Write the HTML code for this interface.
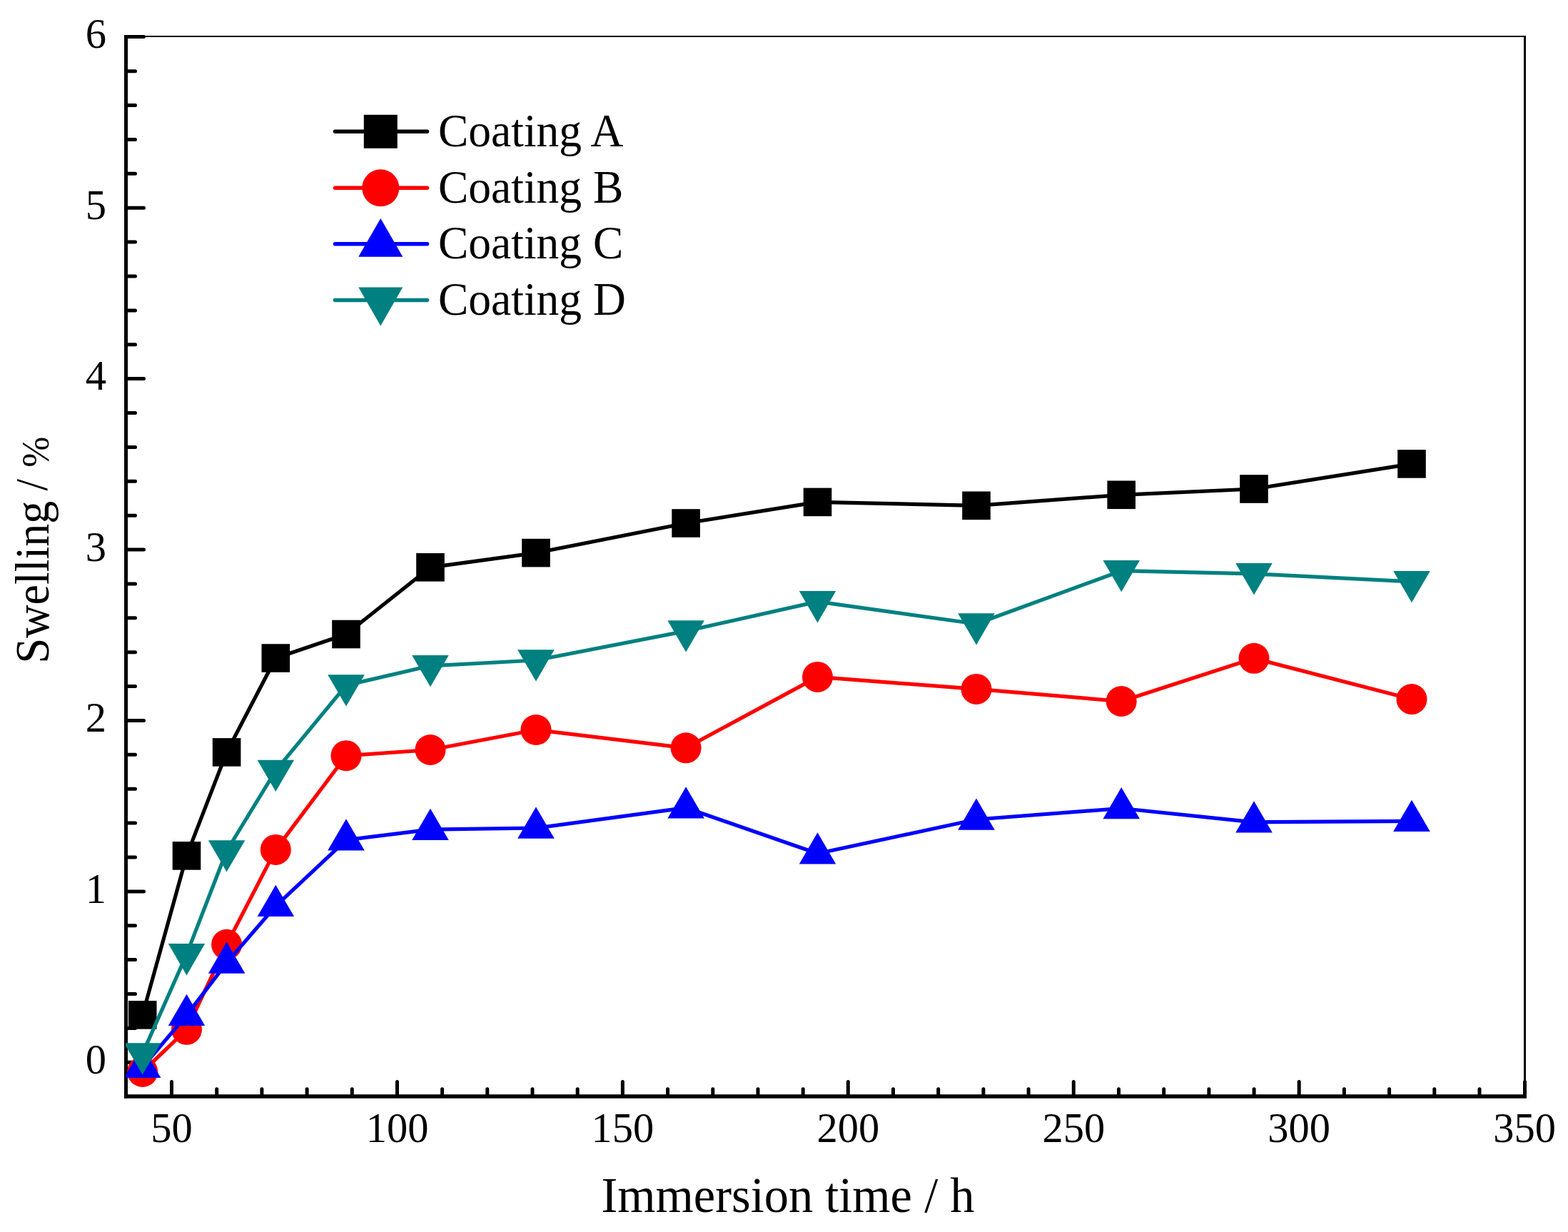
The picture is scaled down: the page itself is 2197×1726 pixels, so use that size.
<!DOCTYPE html>
<html lang="en"><head><meta charset="utf-8"><title>Swelling vs immersion time</title>
<style>html,body{margin:0;padding:0;background:#fff;}body{width:2197px;height:1726px;overflow:hidden;}svg{display:block;}text{font-family:"Liberation Serif","Times New Roman",serif;fill:#000;}.tk{font-size:58.5px;}.lg{font-size:63.5px;}.ti{font-size:68.5px;}</style></head><body>
<svg width="2197" height="1726" viewBox="0 0 2197 1726">
<rect x="0" y="0" width="2197" height="1726" fill="#ffffff"/>
<g stroke="#000" fill="none">
<line x1="176.5" y1="51.0" x2="2138.0" y2="51.0" stroke-width="2"/>
<line x1="2136.5" y1="50.0" x2="2136.5" y2="1536.0" stroke-width="3"/>
<line x1="176.5" y1="49.0" x2="176.5" y2="1538.75" stroke-width="5"/>
<line x1="174.0" y1="1536.0" x2="2139.0" y2="1536.0" stroke-width="5.5"/>
</g>
<g stroke="#000" stroke-width="5" stroke-linecap="round" fill="none">
<line x1="176.5" y1="1488.3" x2="201.5" y2="1488.3"/>
<line x1="176.5" y1="1440.4" x2="189.5" y2="1440.4"/>
<line x1="176.5" y1="1392.5" x2="189.5" y2="1392.5"/>
<line x1="176.5" y1="1344.6" x2="189.5" y2="1344.6"/>
<line x1="176.5" y1="1296.8" x2="189.5" y2="1296.8"/>
<line x1="176.5" y1="1248.9" x2="201.5" y2="1248.9"/>
<line x1="176.5" y1="1201.0" x2="189.5" y2="1201.0"/>
<line x1="176.5" y1="1153.1" x2="189.5" y2="1153.1"/>
<line x1="176.5" y1="1105.2" x2="189.5" y2="1105.2"/>
<line x1="176.5" y1="1057.3" x2="189.5" y2="1057.3"/>
<line x1="176.5" y1="1009.5" x2="201.5" y2="1009.5"/>
<line x1="176.5" y1="961.6" x2="189.5" y2="961.6"/>
<line x1="176.5" y1="913.7" x2="189.5" y2="913.7"/>
<line x1="176.5" y1="865.8" x2="189.5" y2="865.8"/>
<line x1="176.5" y1="817.9" x2="189.5" y2="817.9"/>
<line x1="176.5" y1="770.0" x2="201.5" y2="770.0"/>
<line x1="176.5" y1="722.2" x2="189.5" y2="722.2"/>
<line x1="176.5" y1="674.3" x2="189.5" y2="674.3"/>
<line x1="176.5" y1="626.4" x2="189.5" y2="626.4"/>
<line x1="176.5" y1="578.5" x2="189.5" y2="578.5"/>
<line x1="176.5" y1="530.6" x2="201.5" y2="530.6"/>
<line x1="176.5" y1="482.7" x2="189.5" y2="482.7"/>
<line x1="176.5" y1="434.9" x2="189.5" y2="434.9"/>
<line x1="176.5" y1="387.0" x2="189.5" y2="387.0"/>
<line x1="176.5" y1="339.1" x2="189.5" y2="339.1"/>
<line x1="176.5" y1="291.2" x2="201.5" y2="291.2"/>
<line x1="176.5" y1="243.3" x2="189.5" y2="243.3"/>
<line x1="176.5" y1="195.4" x2="189.5" y2="195.4"/>
<line x1="176.5" y1="147.5" x2="189.5" y2="147.5"/>
<line x1="176.5" y1="99.7" x2="189.5" y2="99.7"/>
<line x1="176.5" y1="51.5" x2="201.5" y2="51.5"/>
<line x1="240.5" y1="1535.7" x2="240.5" y2="1515.5"/>
<line x1="303.7" y1="1535.7" x2="303.7" y2="1525.7"/>
<line x1="366.9" y1="1535.7" x2="366.9" y2="1525.7"/>
<line x1="430.1" y1="1535.7" x2="430.1" y2="1525.7"/>
<line x1="493.3" y1="1535.7" x2="493.3" y2="1525.7"/>
<line x1="556.5" y1="1535.7" x2="556.5" y2="1515.5"/>
<line x1="619.6" y1="1535.7" x2="619.6" y2="1525.7"/>
<line x1="682.8" y1="1535.7" x2="682.8" y2="1525.7"/>
<line x1="746.0" y1="1535.7" x2="746.0" y2="1525.7"/>
<line x1="809.2" y1="1535.7" x2="809.2" y2="1525.7"/>
<line x1="872.4" y1="1535.7" x2="872.4" y2="1515.5"/>
<line x1="935.6" y1="1535.7" x2="935.6" y2="1525.7"/>
<line x1="998.8" y1="1535.7" x2="998.8" y2="1525.7"/>
<line x1="1062.0" y1="1535.7" x2="1062.0" y2="1525.7"/>
<line x1="1125.2" y1="1535.7" x2="1125.2" y2="1525.7"/>
<line x1="1188.3" y1="1535.7" x2="1188.3" y2="1515.5"/>
<line x1="1251.5" y1="1535.7" x2="1251.5" y2="1525.7"/>
<line x1="1314.7" y1="1535.7" x2="1314.7" y2="1525.7"/>
<line x1="1377.9" y1="1535.7" x2="1377.9" y2="1525.7"/>
<line x1="1441.1" y1="1535.7" x2="1441.1" y2="1525.7"/>
<line x1="1504.3" y1="1535.7" x2="1504.3" y2="1515.5"/>
<line x1="1567.5" y1="1535.7" x2="1567.5" y2="1525.7"/>
<line x1="1630.7" y1="1535.7" x2="1630.7" y2="1525.7"/>
<line x1="1693.9" y1="1535.7" x2="1693.9" y2="1525.7"/>
<line x1="1757.1" y1="1535.7" x2="1757.1" y2="1525.7"/>
<line x1="1820.2" y1="1535.7" x2="1820.2" y2="1515.5"/>
<line x1="1883.4" y1="1535.7" x2="1883.4" y2="1525.7"/>
<line x1="1946.6" y1="1535.7" x2="1946.6" y2="1525.7"/>
<line x1="2009.8" y1="1535.7" x2="2009.8" y2="1525.7"/>
<line x1="2073.0" y1="1535.7" x2="2073.0" y2="1525.7"/>
<line x1="2136.5" y1="1535.7" x2="2136.5" y2="1515.5"/>
</g>
<defs><clipPath id="pc"><rect x="176" y="50" width="1962" height="1488"/></clipPath></defs>
<g clip-path="url(#pc)">
<g>
<polyline points="199.7,1421.9 261.5,1198.9 317.6,1053.9 386.3,922.0 485.0,888.5 603.0,794.8 751.0,774.6 961.1,733.0 1145.5,703.4 1368.0,708.3 1571.2,693.3 1757.0,685.0 1978.0,649.9" fill="none" stroke="#000000" stroke-width="5.2" stroke-linejoin="round"/>
<rect x="179.9" y="1402.1" width="39.6" height="39.6" fill="#000000"/>
<rect x="241.7" y="1179.1" width="39.6" height="39.6" fill="#000000"/>
<rect x="297.8" y="1034.1" width="39.6" height="39.6" fill="#000000"/>
<rect x="366.5" y="902.2" width="39.6" height="39.6" fill="#000000"/>
<rect x="465.2" y="868.7" width="39.6" height="39.6" fill="#000000"/>
<rect x="583.2" y="775.0" width="39.6" height="39.6" fill="#000000"/>
<rect x="731.2" y="754.8" width="39.6" height="39.6" fill="#000000"/>
<rect x="941.3" y="713.2" width="39.6" height="39.6" fill="#000000"/>
<rect x="1125.7" y="683.6" width="39.6" height="39.6" fill="#000000"/>
<rect x="1348.2" y="688.5" width="39.6" height="39.6" fill="#000000"/>
<rect x="1551.4" y="673.5" width="39.6" height="39.6" fill="#000000"/>
<rect x="1737.2" y="665.2" width="39.6" height="39.6" fill="#000000"/>
<rect x="1958.2" y="630.1" width="39.6" height="39.6" fill="#000000"/>
</g>
<g>
<polyline points="199.7,1501.5 261.5,1442.3 317.6,1323.3 386.3,1190.4 485.0,1058.7 603.0,1050.5 751.0,1022.5 961.1,1047.8 1145.5,948.4 1368.0,965.4 1571.2,982.5 1757.0,922.3 1978.0,979.6" fill="none" stroke="#ff0000" stroke-width="5.2" stroke-linejoin="round"/>
<circle cx="199.7" cy="1501.5" r="21.5" fill="#ff0000"/>
<circle cx="261.5" cy="1442.3" r="21.5" fill="#ff0000"/>
<circle cx="317.6" cy="1323.3" r="21.5" fill="#ff0000"/>
<circle cx="386.3" cy="1190.4" r="21.5" fill="#ff0000"/>
<circle cx="485.0" cy="1058.7" r="21.5" fill="#ff0000"/>
<circle cx="603.0" cy="1050.5" r="21.5" fill="#ff0000"/>
<circle cx="751.0" cy="1022.5" r="21.5" fill="#ff0000"/>
<circle cx="961.1" cy="1047.8" r="21.5" fill="#ff0000"/>
<circle cx="1145.5" cy="948.4" r="21.5" fill="#ff0000"/>
<circle cx="1368.0" cy="965.4" r="21.5" fill="#ff0000"/>
<circle cx="1571.2" cy="982.5" r="21.5" fill="#ff0000"/>
<circle cx="1757.0" cy="922.3" r="21.5" fill="#ff0000"/>
<circle cx="1978.0" cy="979.6" r="21.5" fill="#ff0000"/>
</g>
<g>
<polyline points="199.7,1495.1 261.5,1422.3 317.6,1348.9 386.3,1269.3 485.0,1176.8 603.0,1162.2 751.0,1160.0 961.1,1131.7 1145.5,1195.8 1368.0,1148.0 1571.2,1132.5 1757.0,1151.8 1978.0,1150.3" fill="none" stroke="#0000ff" stroke-width="5.2" stroke-linejoin="round"/>
<polygon points="199.7,1465.6 225.4,1509.9 173.9,1509.9" fill="#0000ff"/>
<polygon points="261.5,1392.8 287.2,1437.1 235.8,1437.1" fill="#0000ff"/>
<polygon points="317.6,1319.4 343.4,1363.7 291.9,1363.7" fill="#0000ff"/>
<polygon points="386.3,1239.8 412.1,1284.1 360.6,1284.1" fill="#0000ff"/>
<polygon points="485.0,1147.3 510.8,1191.6 459.2,1191.6" fill="#0000ff"/>
<polygon points="603.0,1132.7 628.8,1177.0 577.2,1177.0" fill="#0000ff"/>
<polygon points="751.0,1130.5 776.8,1174.8 725.2,1174.8" fill="#0000ff"/>
<polygon points="961.1,1102.2 986.9,1146.5 935.4,1146.5" fill="#0000ff"/>
<polygon points="1145.5,1166.3 1171.2,1210.6 1119.8,1210.6" fill="#0000ff"/>
<polygon points="1368.0,1118.5 1393.8,1162.8 1342.2,1162.8" fill="#0000ff"/>
<polygon points="1571.2,1103.0 1597.0,1147.3 1545.5,1147.3" fill="#0000ff"/>
<polygon points="1757.0,1122.3 1782.8,1166.6 1731.2,1166.6" fill="#0000ff"/>
<polygon points="1978.0,1120.8 2003.8,1165.1 1952.2,1165.1" fill="#0000ff"/>
</g>
<g>
<polyline points="199.7,1476.1 261.5,1336.9 317.6,1192.0 386.3,1079.6 485.0,960.1 603.0,932.8 751.0,925.0 961.1,884.1 1145.5,842.9 1368.0,874.0 1571.2,799.7 1757.0,803.9 1978.0,814.8" fill="none" stroke="#008080" stroke-width="5.2" stroke-linejoin="round"/>
<polygon points="199.7,1505.6 225.4,1461.3 173.9,1461.3" fill="#008080"/>
<polygon points="261.5,1366.4 287.2,1322.1 235.8,1322.1" fill="#008080"/>
<polygon points="317.6,1221.5 343.4,1177.2 291.9,1177.2" fill="#008080"/>
<polygon points="386.3,1109.1 412.1,1064.8 360.6,1064.8" fill="#008080"/>
<polygon points="485.0,989.6 510.8,945.3 459.2,945.3" fill="#008080"/>
<polygon points="603.0,962.3 628.8,918.0 577.2,918.0" fill="#008080"/>
<polygon points="751.0,954.5 776.8,910.2 725.2,910.2" fill="#008080"/>
<polygon points="961.1,913.6 986.9,869.3 935.4,869.3" fill="#008080"/>
<polygon points="1145.5,872.4 1171.2,828.1 1119.8,828.1" fill="#008080"/>
<polygon points="1368.0,903.5 1393.8,859.2 1342.2,859.2" fill="#008080"/>
<polygon points="1571.2,829.2 1597.0,784.9 1545.5,784.9" fill="#008080"/>
<polygon points="1757.0,833.4 1782.8,789.1 1731.2,789.1" fill="#008080"/>
<polygon points="1978.0,844.3 2003.8,800.0 1952.2,800.0" fill="#008080"/>
</g>
</g>
<line x1="469.5" y1="184.3" x2="598.5" y2="184.3" stroke="#000000" stroke-width="5.5" stroke-linecap="round"/>
<rect x="509.8" y="160.8" width="47.0" height="47.0" fill="#000000"/>
<text class="lg" transform="translate(614,204.6) scale(1,1.04)">Coating A</text>
<line x1="469.5" y1="263.3" x2="598.5" y2="263.3" stroke="#ff0000" stroke-width="5.5" stroke-linecap="round"/>
<circle cx="533.3" cy="263.3" r="26.0" fill="#ff0000"/>
<text class="lg" transform="translate(614,283.6) scale(1,1.04)">Coating B</text>
<line x1="469.5" y1="341.8" x2="598.5" y2="341.8" stroke="#0000ff" stroke-width="5.5" stroke-linecap="round"/>
<polygon points="533.3,305.9 564.3,359.7 502.3,359.7" fill="#0000ff"/>
<text class="lg" transform="translate(614,362.1) scale(1,1.04)">Coating C</text>
<line x1="469.5" y1="420.5" x2="598.5" y2="420.5" stroke="#008080" stroke-width="5.5" stroke-linecap="round"/>
<polygon points="533.3,456.4 564.3,402.6 502.3,402.6" fill="#008080"/>
<text class="lg" transform="translate(614,440.8) scale(1,1.04)">Coating D</text>
<text class="tk" x="240.5" y="1599.8" text-anchor="middle">50</text>
<text class="tk" x="556.5" y="1599.8" text-anchor="middle">100</text>
<text class="tk" x="872.4" y="1599.8" text-anchor="middle">150</text>
<text class="tk" x="1188.3" y="1599.8" text-anchor="middle">200</text>
<text class="tk" x="1504.3" y="1599.8" text-anchor="middle">250</text>
<text class="tk" x="1820.2" y="1599.8" text-anchor="middle">300</text>
<text class="tk" x="2136.2" y="1599.8" text-anchor="middle">350</text>
<text class="tk" x="149" y="1503.9" text-anchor="end">0</text>
<text class="tk" x="149" y="1264.5" text-anchor="end">1</text>
<text class="tk" x="149" y="1025.1" text-anchor="end">2</text>
<text class="tk" x="149" y="785.6" text-anchor="end">3</text>
<text class="tk" x="149" y="546.2" text-anchor="end">4</text>
<text class="tk" x="149" y="306.8" text-anchor="end">5</text>
<text class="tk" x="149" y="67.4" text-anchor="end">6</text>
<text class="ti" transform="translate(1104,1698) scale(1,1.03)" text-anchor="middle">Immersion time / h</text>
<text transform="translate(67.6,929.4) rotate(-90) scale(0.949,1)" style="font-size:67.5px">Swelling<tspan x="239.3" dy="-2" style="font-size:62.5px"> / </tspan><tspan x="289.4" dy="2" style="font-size:54.5px">%</tspan></text>
</svg></body></html>
